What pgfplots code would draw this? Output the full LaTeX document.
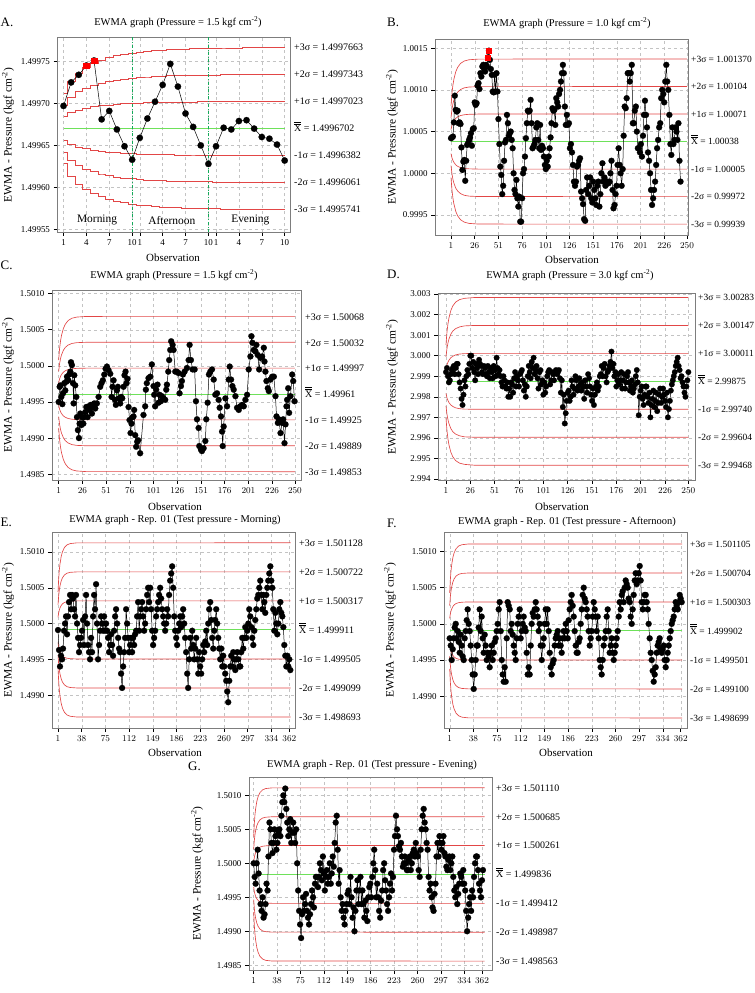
\documentclass[border=0pt]{standalone}
\usepackage{fontspec}
\setmainfont{Liberation Serif}
\usepackage{pgfplots}
\usepackage{pgfplotstable}
\pgfplotsset{compat=1.18}
\definecolor{limred}{RGB}{226,70,70}
\definecolor{cgreen}{RGB}{110,225,90}
\definecolor{vgreen}{RGB}{20,170,90}
\definecolor{framegray}{RGB}{125,125,125}
\definecolor{gridgray}{RGB}{195,195,195}
\pgfplotsset{
 ewma/.style={scale only axis, clip=false, anchor=south west,
  axis line style={framegray, line width=0.9pt},
  tick align=outside, xtick pos=bottom, ytick pos=left,
  major tick length=4bp,
  every tick/.style={black, line width=0.5pt},
  grid=major, major grid style={gridgray, dashed, line width=0.4pt},
  ticklabel style={font=\fontsize{9}{10}\selectfont},
 },
 lim/.style={limred, line width=0.65pt, no marks},
 cl/.style={cgreen, line width=0.9pt, no marks},
 ser/.style={black, line width=0.5pt, mark=*, mark size=3pt, mark options={fill=black, draw=black, line width=0.2pt}},
}
\tikzset{rlab/.style={anchor=base west, inner sep=0pt, xshift=4bp, yshift=-3.3bp, font=\fontsize{10}{10}\selectfont},
 rlabs/.style={anchor=base west, inner sep=0pt, xshift=3bp, yshift=-3.2bp, font=\fontsize{9.5}{10}\selectfont},
 ttl/.style={font=\fontsize{10.5}{12}\selectfont},
 ylab/.style={rotate=90, font=\fontsize{11.5}{12}\selectfont},
 obs/.style={font=\fontsize{11}{12}\selectfont},
 let/.style={anchor=west, inner sep=0pt, font=\fontsize{13}{13}\selectfont}}
\newcommand{\XX}{$\overline{\overline{\mbox{X}}}$}

% ---------------- Panel A ----------------
\pgfplotstableread{
x y p3 p2 p1 m1 m2 m3
1 19.7 21.21 19.81 18.42 15.62 14.23 12.83
2 22.5 22.66 20.78 18.90 15.14 13.26 11.38
3 23.4 23.61 21.41 19.22 14.83 12.63 10.43
4 24.5 24.27 21.85 19.44 14.60 12.19 9.77
5 25.1 24.76 22.18 19.60 14.44 11.86 9.28
6 18.1 25.14 22.44 19.73 14.31 11.60 8.90
7 19.1 25.43 22.63 19.82 14.22 11.41 8.61
8 16.9 25.66 22.78 19.90 14.14 11.26 8.38
9 14.9 25.85 22.90 19.96 14.08 11.14 8.19
10 13.3 26.00 23.01 20.01 14.03 11.03 8.04
11 15.9 26.12 23.08 20.05 13.99 10.96 7.92
12 18.2 26.20 23.14 20.08 13.96 10.90 7.84
13 20.2 26.29 23.20 20.11 13.93 10.84 7.75
14 22.2 26.35 23.24 20.13 13.91 10.80 7.69
15 24.7 26.40 23.28 20.15 13.89 10.76 7.64
16 22.0 26.44 23.30 20.16 13.88 10.74 7.60
17 18.8 26.48 23.33 20.17 13.87 10.71 7.56
18 17.2 26.51 23.35 20.18 13.86 10.69 7.53
19 15.0 26.53 23.36 20.19 13.85 10.68 7.51
20 12.8 26.55 23.37 20.20 13.84 10.67 7.49
21 14.9 26.57 23.39 20.20 13.84 10.65 7.47
22 17.1 26.59 23.40 20.21 13.83 10.64 7.45
23 16.9 26.60 23.40 20.21 13.83 10.64 7.44
24 17.9 26.61 23.41 20.22 13.82 10.63 7.43
25 18.0 26.63 23.43 20.23 13.82 10.61 7.41
26 17.0 26.63 23.43 20.23 13.82 10.61 7.41
27 16.0 26.63 23.43 20.23 13.82 10.61 7.41
28 15.8 26.63 23.43 20.23 13.82 10.61 7.41
29 15.1 26.63 23.43 20.23 13.82 10.61 7.41
30 13.2 26.63 23.43 20.23 13.82 10.61 7.41
}\dataA

% ---------------- Panel B ----------------
\pgfplotstableread{
x y
1 4.2
2 4.3
3 4.4
4 6.1
5 9.3
6 7.6
7 7.4
8 7.5
9 6.0
10 6.1
11 5.9
12 3.1
13 0.4
14 1.4
15 1.6
16 -0.9
17 1.5
18 3.4
19 3.6
20 4.0
21 4.3
22 4.8
23 3.3
24 5.3
25 5.4
26 8.5
27 8.2
28 8.4
29 10.5
30 10.8
31 10.1
32 12.0
33 11.6
34 12.8
35 13.0
36 12.5
37 12.2
38 13.0
39 12.8
40 13.9
41 14.7
42 13.6
43 12.5
44 11.8
45 9.8
46 9.7
47 11.8
48 9.8
49 12.0
50 9.8
51 6.5
52 3.5
53 0.8
54 -0.2
55 -2.5
56 -1.5
57 1.5
58 3.7
59 4.0
60 7.0
61 6.0
62 4.5
63 4.8
64 5.0
65 4.0
66 3.0
67 0.0
68 -2.0
69 -2.5
70 -0.8
71 -3.0
72 -4.0
73 -2.8
74 -5.8
75 -5.8
76 -3.0
77 0.0
78 0.5
79 2.0
80 4.2
81 6.0
82 7.5
83 7.4
84 7.5
85 8.8
86 6.0
87 3.0
88 3.2
89 3.5
90 4.0
91 5.5
92 6.0
93 4.0
94 3.0
95 5.8
96 2.8
97 3.3
98 3.0
99 2.0
100 1.0
101 0.5
102 1.5
103 0.8
104 2.0
105 3.0
106 4.3
107 6.0
108 7.8
109 7.5
110 7.6
111 5.8
112 9.0
113 8.5
114 8.0
115 9.5
116 10.0
117 11.0
118 12.0
119 13.0
120 12.0
121.1 8.0
122.1 5.8
123.2 7.0
124.3 5.8
125.4 6.0
126.4 3.0
127.5 3.5
128.6 2.5
129.6 1.0
130.7 -1.0
131.8 -1.5
132.8 -1.0
133.9 0.8
135.0 1.0
136.1 1.5
137.1 1.8
138.2 -2.2
139.3 -3.0
140.3 -3.7
141.4 -5.5
142.5 -5.7
143.5 -2.0
144.6 -0.5
145.7 -2.5
146.8 -1.5
147.8 -0.5
148.9 -3.0
150.0 -3.5
151.0 -1.0
152.1 -2.0
153.2 -3.0
154.2 -3.8
155.3 -1.5
156.4 -1.0
157.5 -4.0
158.5 -2.5
159.6 0.0
160.7 1.2
161.7 -1.0
162.8 -0.5
163.9 -1.5
164.9 -1.0
166.0 -1.0
167.1 -1.2
168.2 -1.0
169.2 0.0
170.3 1.5
171.4 -2.0
172.4 -4.2
173.5 -3.8
174.6 -2.5
175.6 -1.5
176.7 1.0
177.8 3.0
178.9 1.0
179.9 0.0
181.0 -1.5
182.1 0.5
183.1 4.5
184.2 8.0
185.3 7.8
186.3 9.0
187.4 12.0
188.5 12.0
189.6 11.0
190.6 12.0
191.7 13.0
192.8 6.0
193.8 6.0
194.9 7.5
196.0 8.0
197.0 5.0
198.1 3.0
199.2 3.0
200.3 2.5
201.3 3.5
202.4 2.0
203.5 4.5
204.5 7.0
205.6 8.7
206.7 7.0
207.7 5.5
208.8 2.5
209.9 1.5
211.0 0.0
212.0 -2.0
213.1 -3.8
214.2 -3.0
215.2 -2.0
216.3 -1.0
217.4 1.0
218.4 3.0
219.5 4.0
220.6 5.5
221.7 6.0
222.7 9.0
223.8 10.0
224.9 9.5
225.9 8.5
227.0 11.0
228.1 13.0
229.1 11.0
230.2 10.0
231.3 7.0
232.4 3.5
233.4 2.2
234.5 5.5
235.6 3.5
236.6 4.0
237.7 5.5
238.8 5.0
239.8 4.0
240.9 6.0
242.0 1.5
243.1 -1.0
}\dataB
\pgfplotstableread{
x p3 p2 p1 m1 m2 m3
1 8.12 6.68 5.24 2.36 0.92 -0.52
2 9.61 7.67 5.74 1.86 -0.07 -2.01
3 10.58 8.32 6.06 1.54 -0.72 -2.98
4 11.26 8.78 6.29 1.31 -1.18 -3.66
6 12.17 9.38 6.59 1.01 -1.78 -4.57
8 12.70 9.73 6.77 0.83 -2.13 -5.10
11 13.17 10.04 6.92 0.68 -2.44 -5.57
15 13.46 10.24 7.02 0.58 -2.64 -5.86
20 13.61 10.34 7.07 0.53 -2.74 -6.01
30 13.69 10.39 7.10 0.50 -2.79 -6.09
250 13.70 10.40 7.10 0.50 -2.80 -6.10
}\limB

% ---------------- Panel C ----------------
\pgfplotstableread{
x y
1.0 -5.0
2.1 -2.9
2.8 -2.7
3.8 -4.3
4.9 -5.3
5.6 -3.8
7.0 -2.4
8.0 -3.4
9.1 -2.2
9.8 -1.5
11.2 -2.0
12.2 -1.2
13.3 -0.8
14.0 0.5
15.0 0.1
16.1 -2.4
16.8 -5.2
17.5 -1.3
18.5 -2.7
19.6 -4.3
20.3 -7.1
21.3 -8.9
22.4 -10.0
23.1 -8.0
23.8 -6.6
24.9 -8.2
25.9 -7.1
27.0 -8.0
28.0 -7.1
29.1 -6.4
30.1 -5.7
31.5 -7.1
32.6 -5.6
33.6 -6.1
35.0 -5.4
36.1 -6.6
37.1 -5.7
38.5 -5.2
39.6 -5.9
41.3 -5.2
43.1 -4.3
44.8 -2.9
46.2 -2.4
47.6 -2.0
49.1 -1.2
50.5 -0.4
51.9 -0.1
53.6 -0.6
55.4 -1.1
56.8 -4.3
57.8 -2.9
58.9 -2.0
60.3 -4.7
61.3 -5.4
62.4 -3.4
63.4 -2.9
64.5 -4.5
65.9 -5.2
66.9 -4.3
68.0 -4.5
69.4 -2.9
70.4 -1.3
71.5 -0.8
72.6 -2.4
73.6 -1.8
74.7 -5.7
75.7 -7.5
76.8 -9.3
77.8 -8.0
78.9 -7.1
79.9 -7.0
80.6 -6.1
81.7 -9.6
82.7 -11.2
83.8 -10.5
84.8 -10.3
86.9 -12.1
90.4 -6.8
92.2 -5.6
92.9 -3.3
93.9 -2.4
95.7 -1.7
97.5 -1.5
99.2 0.2
101.0 -2.8
101.7 -4.0
102.7 -5.6
103.8 -3.3
105.2 -2.6
106.3 -5.1
107.3 -4.0
108.7 -4.9
109.8 -4.2
111.5 -4.5
113.3 -4.7
114.4 -3.3
115.1 -2.6
116.5 -0.8
117.5 0.8
118.6 2.2
119.6 3.4
121.1 2.9
122.1 2.2
123.9 -0.8
125.6 -0.8
127.4 -1.0
128.4 -3.8
129.9 -2.8
130.9 -2.1
132.0 -1.2
133.7 -0.8
136.2 -0.3
138.0 0.8
139.0 2.9
140.4 0.8
142.2 -0.5
144.3 -0.5
145.7 -4.9
146.8 -7.4
148.5 -8.6
149.2 -11.1
151.0 -11.6
152.0 -11.8
153.8 -11.4
155.6 -10.4
156.6 -7.4
158.0 -5.1
159.4 -1.2
160.8 -0.8
162.6 -0.5
164.4 -1.9
166.1 -4.0
167.9 -3.8
169.6 -4.7
170.7 -5.8
172.1 -7.0
173.2 -9.1
173.9 -11.1
174.9 -8.4
176.7 -4.5
178.5 -5.6
180.2 -1.9
181.3 -0.1
182.7 -1.9
184.1 -2.8
185.5 -3.3
187.3 -4.2
189.0 -5.8
190.8 -6.1
192.5 -5.6
194.3 -5.4
196.1 -5.6
197.8 -4.7
199.6 -4.0
201.3 -0.5
203.1 1.3
204.2 4.1
205.2 3.2
206.6 2.2
208.4 2.0
209.4 2.9
210.8 1.5
212.3 -0.5
213.7 1.1
215.4 1.3
217.2 2.5
217.9 0.6
218.9 -0.8
220.0 -2.1
221.4 -3.1
222.5 -3.5
224.2 -1.9
226.0 -1.5
227.8 -1.5
229.5 -4.2
230.6 -7.0
232.0 -7.9
233.0 -7.4
234.8 -9.3
236.5 -7.9
237.6 -7.4
239.0 -10.7
240.1 -8.1
241.1 -5.6
241.8 -4.7
242.9 -3.1
243.9 -6.5
245.3 -4.2
247.1 -1.2
248.2 -2.1
249.6 -4.9
}\dataC
\pgfplotstableread{
x p3 p2 p1 m1 m2 m3
1 0.79 -0.77 -2.34 -5.46 -7.03 -8.59
2 2.41 0.31 -1.80 -6.00 -8.11 -10.21
3 3.46 1.01 -1.45 -6.35 -8.81 -11.26
4 4.21 1.51 -1.20 -6.60 -9.31 -12.01
6 5.18 2.16 -0.87 -6.93 -9.96 -12.98
8 5.76 2.55 -0.68 -7.12 -10.35 -13.56
11 6.27 2.88 -0.51 -7.29 -10.68 -14.07
15 6.59 3.10 -0.41 -7.39 -10.90 -14.39
20 6.75 3.21 -0.35 -7.45 -11.01 -14.55
30 6.84 3.26 -0.32 -7.48 -11.06 -14.64
250 6.85 3.27 -0.32 -7.48 -11.07 -14.65
}\limC

% ---------------- Panel D ----------------
\pgfplotstableread{
x y
1 -0.8
2 -0.6
3 -1.0
4 -1.3
5 -1.2
6 -0.9
7 -0.7
8 -0.6
9 -0.5
10 -0.9
11 -0.6
12 -0.4
13 -0.4
14 -0.9
15 -1.3
16 -1.6
17 -2.1
18 -2.4
19 -1.9
20 -1.2
21 -1.5
22 -1.0
23 -0.7
24 -0.9
25 -0.4
26 0.0
27 0.0
28 -0.6
29 -0.3
30 -0.8
31 -1.2
32 -0.4
33 -0.6
34 -0.9
35 -0.2
36 -0.4
37 -0.5
38 -0.8
39 -0.9
40 -0.5
41 -0.6
42 -0.9
43 -1.0
44 -0.5
45 -0.8
46 -1.1
47 -0.6
48 -0.8
49 -1.1
50 -0.5
51 -0.7
52 -1.0
53 -0.1
54 -0.6
55 -0.9
56 -0.7
57 -1.0
58 -1.3
59 -1.5
60 -1.0
61 -1.2
62 -1.5
63 -1.6
64 -1.3
65 -2.0
66 -1.6
67 -2.0
68 -1.3
69 -1.4
70 -1.8
71 -1.1
72 -0.8
73 -1.5
74 -1.0
75 -1.2
76 -1.5
77 -0.9
78 -0.8
79 -0.7
80 -1.2
81 -1.7
82 -1.4
83 -2.0
84 -1.5
85 -1.0
86 -0.5
87 -0.8
88 -1.1
89 -0.3
90 -0.6
91 -0.1
92 -0.9
93 -0.7
94 -0.5
95 -1.1
96 -1.6
97 -0.8
98 -0.7
99 -1.4
100 -1.2
101 -1.9
102 -1.3
103 -1.8
104 -1.5
105 -1.0
106 -0.8
107 -0.7
108 -1.4
109 -1.2
110 -0.8
111 -0.9
112 -1.2
113 -0.8
114 -0.7
115 -0.9
116 -0.8
117 -0.7
118 -1.1
119 -1.8
120 -1.2
121 -2.5
122 -1.9
123 -3.3
124 -2.8
125 -2.2
126 -1.8
127 -1.7
128 -2.2
129 -2.0
130 -1.2
131 -1.5
132 -1.9
133 -1.6
134 -1.0
135 -1.2
136 -1.7
137 -1.5
138 -1.1
139 -1.4
140 -1.7
141 -1.3
142 -1.5
143 -2.1
144 -1.2
145 -1.5
146 -1.8
147 -0.9
148 -1.1
149 -1.5
150 -1.9
151 -2.2
152 -1.6
153 -2.4
154 -1.9
155 -1.5
156 -1.3
157 -1.7
158 -1.5
159 -1.0
160 -0.9
161 -0.5
162 -1.0
163 -0.6
164 -0.4
165 -1.0
166 -1.3
167 -0.8
168 -0.7
169 -0.5
170 -0.3
171 0.2
172 -0.6
173 -0.4
174 -1.0
175 -0.8
176 -1.5
177 -1.2
178 -0.9
179 -1.4
180 -1.2
181 -0.8
182 -1.6
183 -1.2
184 -0.9
185 -1.6
186 -1.3
187 -1.0
188 -0.8
189 -1.3
190 -1.7
191 -1.5
192 -1.2
193 -1.8
194 -1.6
195 -1.4
196 -1.0
197 -0.7
198 -1.3
199 -2.9
200 -2.0
201 -1.7
202 -1.5
203 -2.1
204 -2.4
205 -1.9
206 -1.5
207 -1.5
208 -2.0
209 -2.3
210 -1.8
211 -3.0
212 -2.4
213 -2.1
214 -1.7
215 -2.5
216 -2.2
217 -1.8
218 -2.7
219 -2.3
220 -1.9
221 -1.6
222 -2.3
223 -2.0
224 -1.6
225 -1.9
226 -2.2
227 -2.5
228 -1.8
229 -3.0
230 -2.6
231 -2.2
232 -1.7
233 -1.4
234 -1.2
235 -1.0
236 -0.8
237 -0.5
238 -0.3
239 -0.1
240 -0.5
241 -0.7
242 -1.1
243 -1.0
244 -1.3
245 -1.5
246 -1.8
247 -2.0
248 -1.5
249 -1.2
250 -0.8
}\dataD
\pgfplotstableread{
x p3 p2 p1 m1 m2 m3
1 0.53 -0.06 -0.66 -1.84 -2.44 -3.03
2 1.14 0.35 -0.45 -2.05 -2.85 -3.64
3 1.54 0.61 -0.32 -2.18 -3.11 -4.04
4 1.83 0.80 -0.22 -2.28 -3.30 -4.33
6 2.20 1.05 -0.10 -2.40 -3.55 -4.70
8 2.42 1.20 -0.03 -2.47 -3.70 -4.92
11 2.61 1.32 0.04 -2.54 -3.82 -5.11
15 2.73 1.40 0.08 -2.58 -3.90 -5.23
20 2.79 1.45 0.10 -2.60 -3.95 -5.29
30 2.83 1.47 0.11 -2.61 -3.97 -5.33
250 2.83 1.47 0.11 -2.61 -3.97 -5.33
}\limD

% ---------------- Panels E, F, G ----------------
\pgfplotstableread{
x E F G
1.0 -0.9 -2 0
2.6 -3.7 -3 -2
4.1 -6 -5 -3
5.7 -4.5 -3.5 0
7.3 -5 -2 2
8.8 -3.5 -0.5 -1.5
10.4 -1 0 -4
11.9 0 -2 -6
13.5 1 -1 -7
15.1 -1.5 -2.5 -5
16.6 1 -4 -8
18.2 3 -1.5 -7.5
19.8 4 -3 -6
21.3 2 -4.5 -3
22.9 4 -5 -4
24.4 3.5 -2 1
26.0 2 -1 6
27.6 1 0.5 5
29.1 4 2 3
30.7 0 0 1.5
32.3 -2 -1 3
33.8 -4 -3 5
35.4 -3 -5 4
36.9 -2 -7 2
38.5 -1 -9 3
40.1 0.5 -7 4.5
41.6 -3 -5 5
43.2 1 -3 4
44.8 4 -3 7
46.3 0 -0.5 9
47.9 -3 2 10
49.4 -4 -1 9
51.0 -5 1 11
52.6 -2 -2 8
54.1 -4 -4 6
55.7 1 -1.5 4
57.3 4 -3 5
58.8 2 -5 6.5
60.4 5.5 -4 3
61.9 0 -4.5 4.5
63.5 -5 -6 6
65.1 -3 -4 4.5
66.6 -1 -3 3
68.2 1 -5 5
69.8 0 -4 0
71.3 -1 -2.5 -4
72.9 1 -2 -7
74.4 -1 -1 -9
76.0 0 0 -11
77.6 -1 2 -7.5
79.1 -2 3 -5
80.7 -4 -1 -7
82.3 -3 -5 -6
83.8 -1.5 -7 -4.5
85.4 -3 -8 -7
86.9 -4.5 -6 -8
88.5 -1 -8 -9
90.1 1 -2 -7.5
91.6 2 3 -6
93.2 0 2.5 -4
94.8 -2 2 -5
96.3 -3.5 -1 -6.5
97.9 -4 0 -3
99.4 -7 -1.5 -2
101.0 -9 -3 -2
102.6 -6 -4 -3.5
104.1 -4 -5 -2
105.7 -2 -2 0
107.3 2 0 -1
108.8 0 1 -2.5
110.4 -2 2 1
111.9 -4 -2 -1.5
113.5 -3 -1 -4
115.1 -2 0 -2
116.6 -4 1 -1
118.2 -2 -0.5 -3
119.8 -3 -1 -2
121.3 -1.5 -4 0
122.9 -1 -7 -3
124.4 1 -6 -1.5
126.0 3 -7 1
127.6 -1 -3 -0.5
129.1 1 0 3
130.7 2 1.5 6
132.3 3 1 7
133.8 1 2 2
135.4 -1 3 -3
136.9 0 2 -1
138.5 2 1 -5
140.1 4 -1 -7
141.6 5 0 -6
143.2 3 -3 -8
144.8 5 -5 -9
146.3 2 -3 -7
147.9 -1 -2 -6
149.4 -3 0 -4.5
151.0 -2 2 -4
152.6 -1 0 -6
154.1 1 2 -2
155.7 2 -1 -5
157.3 3 -4 -8
158.8 4 -6 -6.5
160.4 5 -7 -10
161.9 3.5 -5.5 -7
163.5 2 -5 -4
165.1 1 -3 -2.5
166.6 0 -2 -6
168.2 -1 -1.5 -4
169.8 0 -1 -2
171.3 2 -3 -6
172.9 1 -2 -4
174.4 4 -3 -6
176.0 6 -4 -8
177.6 7 -2 -5.5
179.1 8 -1 -7
180.7 5 -2 -8.5
182.3 1 0 -5
183.8 -1 -1 -3.5
185.4 -2 -2 -3
186.9 -3 0.5 -5
188.5 -1 2 -2
190.1 0 3 0
191.6 1 4 2
193.2 -0.5 2.5 -1
194.8 1 1 -5
196.3 2 -1 -3
197.9 0 -3 -5
199.4 -2 -4 -7
201.0 -4 -4 -8
202.6 -7 -2.5 -5.5
204.1 -9 -2 -4
205.7 -5 0 -1
207.3 -2 2 0
208.8 -3.5 4 -2.5
210.4 -1 5 -4
211.9 -3 3.5 -6
213.5 -5 3 -7
215.1 -3.5 2 -5
216.6 -2 1 -3
218.2 -5 -1 -1.5
219.8 -7 -3 -4
221.3 -4 -2 -2
222.9 -6 -1 2
224.4 -7 1 4
226.0 -5 3 7
227.6 -3 2 5
229.1 -4 1 4
230.7 -2.5 -1 2.5
232.3 -1 1 2
233.8 -3 -2 3
235.4 0 -5 1
236.9 2 -6 -0.5
238.5 3 -7 0
240.1 0.5 -5 1
241.6 -2 -3 0
243.2 -3.5 -2 -1
244.8 -1 -1 -1
246.3 0.5 1 0.5
247.9 2 2 1
249.4 0 -1 -1
251.0 -2 -4 0
252.6 -3.5 -3 1.5
254.1 -5 -2 2
255.7 -3.5 -4 1
257.3 -6 -5 3
258.8 -4.5 -4 1.5
260.4 -6 -3 1
261.9 -7 -2 -1
263.5 -8 -1 -2
265.1 -9.5 1 2
266.6 -11 3 5
268.2 -8 2 7
269.8 -6 4 8
271.3 -4.5 4.5 6
272.9 -6 3 5
274.4 -4 5 3
276.0 -5 6 2
277.6 -6.5 5.5 -2
279.1 -5 5 -4
280.7 -4 3.5 -3
282.3 -5 3 -5
283.8 -6 1 -6.5
285.4 -6 0 -7
286.9 -4 2 -4.5
288.5 -2 4 -3
290.1 -3.5 6 1
291.6 -2 7 3
293.2 -0.5 5.5 1
294.8 -2 6 4
296.3 -1 7 3
297.9 0 8 2
299.4 2 6 3
301.0 1 3 4
302.6 -0.5 2 1.5
304.1 -2 3 1
305.7 -3 4 -0.5
307.3 -1 4 -1
308.8 0.5 3 0.5
310.4 2 2 1
311.9 3.5 0 -1
313.5 4 -2 0
315.1 5 -4 1
316.6 6 -5 -2
318.2 4 -6.5 -4
319.8 2 -8 -5
321.3 4 -7 -3.5
322.9 3 -6 -6
324.4 1.5 -4 -4.5
326.0 4 -3 -3
327.6 5 -2.5 -1.5
329.1 6 -2 -2
330.7 7 -3.5 -3
332.3 8 -4 -1
333.8 6 -3.5 -3
335.4 5 -3 -4
336.9 2 -5 -7
338.5 -1 -6 -10
340.1 1.5 -5 -8
341.6 0 -4 -6
343.2 -1.5 -3 -5
344.8 0 -2 -7
346.3 2 -1 -4
347.9 3 0 -5
349.4 1.5 0.5 -2
351.0 1 1 0
352.6 -0.5 2 1
354.1 -3 3 1
355.7 -4.5 2.5 -1
357.3 -6 2 -3
358.8 -4.5 3 -4
360.4 -6 4 -5
361.9 -5 3.5 -2.5
363.5 -6.5 3 -1
}\dataEFG
\pgfplotstableread{
x p3 p2 p1 m1 m2 m3
1 4.42 2.65 0.88 -2.66 -4.43 -6.20
2 6.26 3.88 1.49 -3.27 -5.66 -8.04
3 7.45 4.67 1.89 -3.67 -6.45 -9.23
4 8.29 5.23 2.17 -3.95 -7.01 -10.07
6 9.40 5.97 2.54 -4.32 -7.75 -11.18
8 10.06 6.41 2.76 -4.54 -8.19 -11.84
11 10.63 6.79 2.95 -4.73 -8.57 -12.41
15 11.00 7.04 3.07 -4.85 -8.82 -12.78
20 11.18 7.16 3.13 -4.91 -8.94 -12.96
30 11.28 7.22 3.17 -4.95 -9.00 -13.06
364 11.29 7.23 3.17 -4.95 -9.01 -13.07
}\limE
\pgfplotstableread{
x p3 p2 p1 m1 m2 m3
1 4.27 2.52 0.77 -2.73 -4.48 -6.23
2 6.08 3.73 1.37 -3.33 -5.69 -8.04
3 7.26 4.51 1.77 -3.73 -6.47 -9.22
4 8.09 5.07 2.04 -4.00 -7.03 -10.05
6 9.19 5.80 2.41 -4.37 -7.76 -11.15
8 9.84 6.23 2.63 -4.59 -8.19 -11.80
11 10.40 6.61 2.81 -4.77 -8.57 -12.36
15 10.76 6.85 2.93 -4.89 -8.81 -12.72
20 10.94 6.97 2.99 -4.95 -8.93 -12.90
30 11.04 7.03 3.03 -4.99 -8.99 -13.00
364 11.05 7.04 3.03 -4.99 -9.00 -13.01
}\limF
\pgfplotstableread{
x p3 p2 p1 m1 m2 m3
1 3.92 2.07 0.21 -3.49 -5.35 -7.20
2 5.84 3.35 0.85 -4.13 -6.63 -9.12
3 7.09 4.18 1.27 -4.55 -7.46 -10.37
4 7.97 4.77 1.56 -4.84 -8.05 -11.25
6 9.13 5.54 1.95 -5.23 -8.82 -12.41
8 9.82 6.00 2.18 -5.46 -9.28 -13.10
11 10.42 6.40 2.38 -5.66 -9.68 -13.70
15 10.80 6.66 2.51 -5.79 -9.94 -14.08
20 11.00 6.78 2.57 -5.85 -10.06 -14.28
30 11.10 6.85 2.61 -5.89 -10.13 -14.38
366 11.11 6.86 2.61 -5.89 -10.14 -14.39
}\limG

\begin{document}
\begin{tikzpicture}
\useasboundingbox (0,0) rectangle (755bp,993bp);
\clip (0,0) rectangle (755bp,993bp);

% ===== A =====
\node[let] at (0.5bp,971bp) {A.};
\node[ttl] at (178bp,971bp) {EWMA graph (Pressure = 1.5 kgf cm\textsuperscript{-2})};
\node[ylab] at (8bp,858bp) {EWMA - Pressure (kgf cm\textsuperscript{-2})};
\node[obs] at (173bp,735bp) {Observation};
\begin{axis}[ewma, at={(57.5bp,761bp)}, width=232.5bp, height=195bp,
  xmin=0.21, xmax=30.7, ymin=4.7, ymax=27.9,
  xtick={1,4,7,10,11,14,17,20,21,24,27,30},
  xticklabels={1,4,7,10,1,4,7,10,1,4,7,10},
  ytick={5,10,15,20,25},
  yticklabels={1.49955,1.49960,1.49965,1.49970,1.49975}]
\addplot[lim, const plot mark mid] table[x=x,y=p3]{\dataA};
\addplot[lim, const plot mark mid] table[x=x,y=p2]{\dataA};
\addplot[lim, const plot mark mid] table[x=x,y=p1]{\dataA};
\addplot[lim, const plot mark mid] table[x=x,y=m1]{\dataA};
\addplot[lim, const plot mark mid] table[x=x,y=m2]{\dataA};
\addplot[lim, const plot mark mid] table[x=x,y=m3]{\dataA};
\addplot[cl] coordinates {(1,17.02) (30,17.02)};
\addplot[vgreen, dash dot, line width=1pt, no marks] coordinates {(10,4.7) (10,27.9)};
\addplot[vgreen, dash dot, line width=1pt, no marks] coordinates {(20,4.7) (20,27.9)};
\addplot[ser, mark size=3.2pt] table[x=x,y=y]{\dataA};
\addplot[only marks, mark=square*, mark size=2.8pt, red, mark options={fill=red}] coordinates {(4,24.5) (5,25.1)};
\node[font=\fontsize{11.5}{12}\selectfont] at (axis cs:5.4,6.1) {Morning};
\node[font=\fontsize{11.5}{12}\selectfont] at (axis cs:15.2,6.1) {Afternoon};
\node[font=\fontsize{11.5}{12}\selectfont] at (axis cs:25.5,6.1) {Evening};
\node[rlab] at (axis cs:30.7,26.63) {+3σ = 1.4997663};
\node[rlab] at (axis cs:30.7,23.43) {+2σ = 1.4997343};
\node[rlab] at (axis cs:30.7,20.23) {+1σ = 1.4997023};
\node[rlab] at (axis cs:30.7,17.02) {\XX{} = 1.4996702};
\node[rlab] at (axis cs:30.7,13.82) {-1σ = 1.4996382};
\node[rlab] at (axis cs:30.7,10.61) {-2σ = 1.4996061};
\node[rlab] at (axis cs:30.7,7.41) {-3σ = 1.4995741};
\end{axis}

% ===== B =====
\node[let] at (387bp,971bp) {B.};
\node[ttl] at (567bp,970bp) {EWMA graph (Pressure = 1.0 kgf cm\textsuperscript{-2})};
\node[ylab] at (392bp,856bp) {EWMA - Pressure (kgf cm\textsuperscript{-2})};
\node[obs] at (572bp,733bp) {Observation};
\begin{axis}[ewma, at={(435bp,758bp)}, width=253bp, height=196bp,
  xmin=-15.9, xmax=251, ymin=-7.4, ymax=16.1,
  xtick={1,26,51,76,101,126,151,176,201,226,250},
  ytick={-5,0,5,10,15},
  yticklabels={0.9995,1.0000,1.0005,1.0010,1.0015}]
\addplot[lim] table[x=x,y=p3]{\limB};
\addplot[lim] table[x=x,y=p2]{\limB};
\addplot[lim] table[x=x,y=p1]{\limB};
\addplot[lim] table[x=x,y=m1]{\limB};
\addplot[lim] table[x=x,y=m2]{\limB};
\addplot[lim] table[x=x,y=m3]{\limB};
\addplot[cl] coordinates {(1,3.8) (250,3.8)};
\addplot[ser] table[x=x,y=y]{\dataB};
\addplot[only marks, mark=square*, mark size=2.6pt, red, mark options={fill=red}] coordinates {(40,13.9) (41,14.7)};
\node[rlabs] at (axis cs:251,13.7) {+3σ = 1.001370};
\node[rlabs] at (axis cs:251,10.4) {+2σ = 1.00104};
\node[rlabs] at (axis cs:251,7.1) {+1σ = 1.00071};
\node[rlabs] at (axis cs:251,3.8) {\XX{} = 1.00038};
\node[rlabs] at (axis cs:251,0.5) {-1σ = 1.00005};
\node[rlabs] at (axis cs:251,-2.8) {-2σ = 0.99972};
\node[rlabs] at (axis cs:251,-6.1) {-3σ = 0.99939};
\end{axis}

% ===== C =====
\node[let] at (0.5bp,728bp) {C.};
\node[ttl] at (174bp,718bp) {EWMA graph (Pressure = 1.5 kgf cm\textsuperscript{-2})};
\node[ylab] at (8bp,608bp) {EWMA - Pressure (kgf cm\textsuperscript{-2})};
\node[obs] at (175bp,486bp) {Observation};
\begin{axis}[ewma, at={(52bp,513bp)}, width=249bp, height=190bp,
  xmin=-6, xmax=256.4, ymin=-15.8, ymax=10.5,
  xtick={1,26,51,76,101,126,151,176,201,226,250},
  ytick={-15,-10,-5,0,5,10},
  yticklabels={1.4985,1.4990,1.4995,1.5000,1.5005,1.5010}]
\addplot[lim] table[x=x,y=p3]{\limC};
\addplot[lim] table[x=x,y=p2]{\limC};
\addplot[lim] table[x=x,y=p1]{\limC};
\addplot[lim] table[x=x,y=m1]{\limC};
\addplot[lim] table[x=x,y=m2]{\limC};
\addplot[lim] table[x=x,y=m3]{\limC};
\addplot[cl] coordinates {(1,-3.9) (250,-3.9)};
\addplot[ser] table[x=x,y=y]{\dataC};
\node[rlab] at (axis cs:256.4,6.8) {+3σ = 1.50068};
\node[rlab] at (axis cs:256.4,3.2) {+2σ = 1.50032};
\node[rlab] at (axis cs:256.4,-0.3) {+1σ = 1.49997};
\node[rlab] at (axis cs:256.4,-3.9) {\XX{} = 1.49961};
\node[rlab] at (axis cs:256.4,-7.5) {-1σ = 1.49925};
\node[rlab] at (axis cs:256.4,-11.1) {-2σ = 1.49889};
\node[rlab] at (axis cs:256.4,-14.7) {-3σ = 1.49853};
\end{axis}

% ===== D =====
\node[let] at (387bp,719bp) {D.};
\node[ttl] at (570bp,718bp) {EWMA graph (Pressure = 3.0 kgf cm\textsuperscript{-2})};
\node[ylab] at (392bp,606bp) {EWMA - Pressure (kgf cm\textsuperscript{-2})};
\node[obs] at (562bp,486bp) {Observation};
\begin{axis}[ewma, at={(438bp,513bp)}, width=257bp, height=187bp,
  xmin=-7.2, xmax=256.8, ymin=-6.05, ymax=3.05,
  xtick={1,26,51,76,101,126,151,176,201,226,250},
  ytick={-6,-5,-4,-3,-2,-1,0,1,2,3},
  yticklabels={2.994,2.995,2.996,2.997,2.998,2.999,3.000,3.001,3.002,3.003}]
\addplot[lim] table[x=x,y=p3]{\limD};
\addplot[lim] table[x=x,y=p2]{\limD};
\addplot[lim] table[x=x,y=p1]{\limD};
\addplot[lim] table[x=x,y=m1]{\limD};
\addplot[lim] table[x=x,y=m2]{\limD};
\addplot[lim] table[x=x,y=m3]{\limD};
\addplot[cl] coordinates {(1,-1.25) (250,-1.25)};
\addplot[ser, mark size=2.8pt] table[x=x,y=y]{\dataD};
\node[rlabs] at (axis cs:256.8,2.83) {+3σ = 3.00283};
\node[rlabs] at (axis cs:256.8,1.47) {+2σ = 3.00147};
\node[rlabs] at (axis cs:256.8,0.11) {+1σ = 3.00011};
\node[rlabs] at (axis cs:256.8,-1.25) {\XX{} = 2.99875};
\node[rlabs] at (axis cs:256.8,-2.60) {-1σ = 2.99740};
\node[rlabs] at (axis cs:256.8,-3.96) {-2σ = 2.99604};
\node[rlabs] at (axis cs:256.8,-5.32) {-3σ = 2.99468};
\end{axis}

% ===== E =====
\node[let] at (0.5bp,471bp) {E.};
\node[ttl] at (175bp,473bp) {EWMA graph - Rep. 01 (Test pressure - Morning)};
\node[ylab] at (8bp,363bp) {EWMA - Pressure (kgf cm\textsuperscript{-2})};
\node[obs] at (175bp,240bp) {Observation};
\begin{axis}[ewma, at={(52bp,265bp)}, width=243bp, height=196bp,
  xmin=-8.4, xmax=370.8, ymin=-14.6, ymax=12.8,
  xtick={1,38,75,112,149,186,223,260,297,334,362},
  ytick={-10,-5,0,5,10},
  yticklabels={1.4990,1.4995,1.5000,1.5005,1.5010}]
\addplot[lim] table[x=x,y=p3]{\limE};
\addplot[lim] table[x=x,y=p2]{\limE};
\addplot[lim] table[x=x,y=p1]{\limE};
\addplot[lim] table[x=x,y=m1]{\limE};
\addplot[lim] table[x=x,y=m2]{\limE};
\addplot[lim] table[x=x,y=m3]{\limE};
\addplot[cl] coordinates {(1,-0.89) (364,-0.89)};
\addplot[ser] table[x=x,y=E]{\dataEFG};
\node[rlab] at (axis cs:370.8,11.28) {+3σ = 1.501128};
\node[rlab] at (axis cs:370.8,7.22) {+2σ = 1.500722};
\node[rlab] at (axis cs:370.8,3.17) {+1σ = 1.500317};
\node[rlab] at (axis cs:370.8,-0.89) {\XX{} = 1.499911};
\node[rlab] at (axis cs:370.8,-4.95) {-1σ = 1.499505};
\node[rlab] at (axis cs:370.8,-9.01) {-2σ = 1.499099};
\node[rlab] at (axis cs:370.8,-13.07) {-3σ = 1.498693};
\end{axis}

% ===== F =====
\node[let] at (387bp,470bp) {F.};
\node[ttl] at (567bp,471bp) {EWMA graph - Rep. 01 (Test pressure - Afternoon)};
\node[ylab] at (390bp,363bp) {EWMA - Pressure (kgf cm\textsuperscript{-2})};
\node[obs] at (566bp,240bp) {Observation};
\begin{axis}[ewma, at={(444bp,265bp)}, width=243bp, height=196bp,
  xmin=-7.9, xmax=371.8, ymin=-14.4, ymax=12.7,
  xtick={1,38,75,112,149,186,223,260,297,334,362},
  ytick={-10,-5,0,5,10},
  yticklabels={1.4990,1.4995,1.5000,1.5005,1.5010}]
\addplot[lim] table[x=x,y=p3]{\limF};
\addplot[lim] table[x=x,y=p2]{\limF};
\addplot[lim] table[x=x,y=p1]{\limF};
\addplot[lim] table[x=x,y=m1]{\limF};
\addplot[lim] table[x=x,y=m2]{\limF};
\addplot[lim] table[x=x,y=m3]{\limF};
\addplot[cl] coordinates {(1,-0.98) (364,-0.98)};
\addplot[ser] table[x=x,y=F]{\dataEFG};
\node[rlabs] at (axis cs:371.8,11.05) {+3σ = 1.501105};
\node[rlabs] at (axis cs:371.8,7.04) {+2σ = 1.500704};
\node[rlabs] at (axis cs:371.8,3.03) {+1σ = 1.500303};
\node[rlabs] at (axis cs:371.8,-0.98) {\XX{} = 1.499902};
\node[rlabs] at (axis cs:371.8,-4.99) {-1σ = 1.499501};
\node[rlabs] at (axis cs:371.8,-9.0) {-2σ = 1.499100};
\node[rlabs] at (axis cs:371.8,-13.01) {-3σ = 1.498699};
\end{axis}

% ===== G =====
\node[let] at (188bp,227bp) {G.};
\node[ttl] at (372bp,228bp) {EWMA graph - Rep. 01 (Test pressure - Evening)};
\node[ylab] at (197bp,119.5bp) {EWMA - Pressure (kgf cm\textsuperscript{-2})};
\begin{axis}[ewma, at={(249bp,23bp)}, width=243bp, height=193bp,
  xmin=-6.4, xmax=377.8, ymin=-15.7, ymax=12.7,
  xtick={1,38,75,112,149,186,223,260,297,334,362},
  ytick={-15,-10,-5,0,5,10},
  yticklabels={1.4985,1.4990,1.4995,1.5000,1.5005,1.5010}]
\addplot[lim] table[x=x,y=p3]{\limG};
\addplot[lim] table[x=x,y=p2]{\limG};
\addplot[lim] table[x=x,y=p1]{\limG};
\addplot[lim] table[x=x,y=m1]{\limG};
\addplot[lim] table[x=x,y=m2]{\limG};
\addplot[lim] table[x=x,y=m3]{\limG};
\addplot[cl] coordinates {(1,-1.64) (366,-1.64)};
\addplot[ser] table[x=x,y=G]{\dataEFG};
\node[rlab] at (axis cs:377.8,11.1) {+3σ = 1.501110};
\node[rlab] at (axis cs:377.8,6.85) {+2σ = 1.500685};
\node[rlab] at (axis cs:377.8,2.61) {+1σ = 1.500261};
\node[rlab] at (axis cs:377.8,-1.64) {\XX{} = 1.499836};
\node[rlab] at (axis cs:377.8,-5.88) {-1σ = 1.499412};
\node[rlab] at (axis cs:377.8,-10.13) {-2σ = 1.498987};
\node[rlab] at (axis cs:377.8,-14.37) {-3σ = 1.498563};
\end{axis}
\end{tikzpicture}
\end{document}
